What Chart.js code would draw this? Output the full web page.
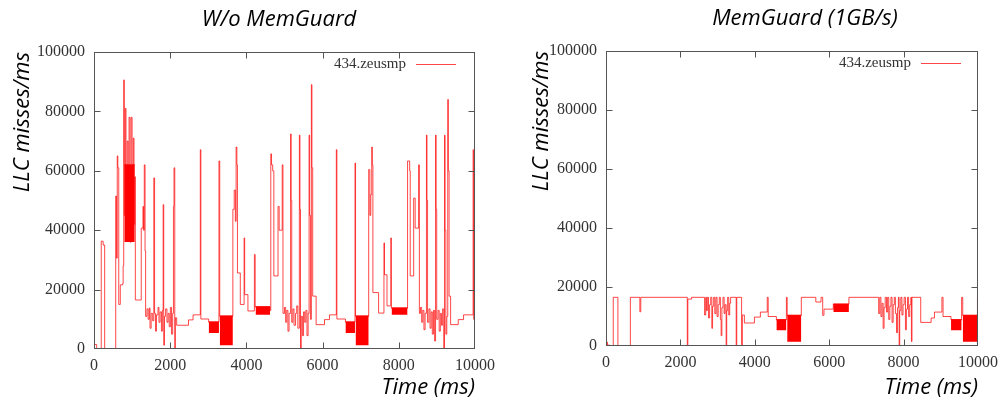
<!DOCTYPE html>
<html lang="en">
<head>
<meta charset="UTF-8">
<title>LLC misses/ms - 434.zeusmp</title>
<script src="https://cdn.jsdelivr.net/npm/chart.js"></script>
<style>
  body { margin: 0; background: #fff; width: 1005px; height: 402px; overflow: hidden; position: relative; }
  .panel { position: absolute; top: 0; }
  #left { left: 0; }
  #right { left: 502px; }
</style>
</head>
<body>
<div class="panel" id="left"><canvas id="noGuard" width="502" height="402"></canvas></div>
<div class="panel" id="right"><canvas id="guard" width="503" height="402"></canvas></div>

<script>
const seriesName = '434.zeusmp';
const xTicks = [0, 2000, 4000, 6000, 8000, 10000];
const yTicks = [0, 20000, 40000, 60000, 80000, 100000];

// [time ms, LLC misses/ms] - each value holds until the next point
const noGuardSteps = [
  [0, 1500], [70, 0], [190, 36300], [240, 35000], [280, 0],
  [570, 51500], [590, 30600], [610, 65000], [625, 61000], [650, 15000], [690, 21600], [750, 22000], [765, 28000], [780, 90600], [795, 45000],
  [820, 81000], [840, 40000], [870, 70000], [895, 38000], [920, 78000], [945, 36000], [975, 78000], [1000, 48000], [1030, 71000], [1050, 42000], [1070, 58000],
  [1085, 16500], [1240, 40700], [1285, 48000], [1300, 40000], [1320, 62000], [1340, 33000],
  [1355, 11000], [1390, 13500], [1420, 10000], [1450, 13800], [1470, 7000], [1500, 12000], [1540, 9500], [1570, 57600], [1590, 12000],
  [1615, 6000], [1640, 11500], [1680, 14000], [1705, 9000], [1735, 12500], [1770, 6000], [1795, 13000], [1815, 48600], [1830, 1300],
  [1850, 11000], [1880, 13500], [1915, 9000], [1945, 12000], [1975, 7500], [2005, 14000], [2035, 5000], [2065, 12000], [2085, 48000],
  [2100, 61000], [2120, 0], [2135, 10500],
  [2170, 8000], [2480, 9800], [2600, 11500], [2790, 67100], [2805, 10100], [3010, 9100], [3280, 63300], [3300, 11100],
  [3645, 47000], [3680, 53500], [3710, 43000], [3730, 68000], [3750, 62000], [3765, 25600], [3840, 15000], [3940, 37400], [3955, 18300],
  [4040, 12800], [4210, 31800], [4230, 14200], [4620, 13000], [4640, 65700], [4660, 62000], [4690, 60000], [4720, 24600], [4830, 48000],
  [4860, 40000], [4940, 62000], [4960, 12000],
  [5000, 14000], [5030, 9000], [5060, 13000], [5090, 6000], [5120, 12000], [5160, 72400], [5175, 50000], [5190, 9000], [5220, 13500],
  [5250, 8000], [5290, 12000], [5320, 14500], [5350, 7000], [5390, 72000], [5405, 47000], [5420, 0], [5440, 11000], [5470, 4500],
  [5500, 12500], [5530, 9000], [5560, 13000], [5590, 4500], [5620, 12000], [5645, 72000], [5660, 45000], [5680, 10000], [5705, 89000],
  [5720, 61000], [5740, 17800],
  [5830, 8200], [6050, 9900], [6180, 11500], [6360, 67100], [6375, 10100], [6600, 9100], [6850, 62600], [6865, 11100],
  [7210, 60400], [7240, 45000], [7265, 52000], [7290, 68000], [7305, 62000], [7320, 19000], [7470, 12100], [7610, 35700], [7625, 25000],
  [7690, 14500], [7790, 37400], [7805, 13800], [8230, 63300], [8285, 60000], [8300, 24600], [8390, 50800], [8430, 40700], [8520, 62000],
  [8540, 12000],
  [8570, 14000], [8600, 9000], [8630, 13000], [8660, 6500], [8690, 12000], [8725, 72000], [8740, 50000], [8755, 9000], [8790, 13500],
  [8820, 7000], [8850, 12500], [8880, 5000], [8910, 13000], [8940, 2700], [8965, 72000], [8980, 47000], [8995, 10000], [9030, 13000],
  [9060, 6000], [9090, 12000], [9120, 8000], [9150, 13500], [9180, 0], [9200, 72000], [9215, 40000], [9235, 5000], [9260, 11000],
  [9285, 84000], [9300, 60000], [9320, 17800],
  [9360, 8200], [9560, 9900], [9700, 11500], [9950, 67100], [9965, 10000], [10000, 10000]
];
// [from ms, to ms, low, high] - sections where the trace toggles too fast to separate
const noGuardBands = [
  [795, 1070, 36000, 62000],
  [3010, 3280, 5400, 9100],
  [3300, 3645, 1300, 11100],
  [4240, 4620, 11500, 14200],
  [6600, 6850, 5400, 9100],
  [6865, 7210, 1300, 11100],
  [7810, 8230, 11500, 13800]
];

const guardSteps = [
  [0, 1300], [40, 300], [100, 0], [195, 16500], [320, 0], [655, 16500], [910, 11600], [935, 16500], [2185, 0], [2200, 15900], [2300, 16500],
  [2650, 10500], [2680, 16500], [2700, 12000], [2725, 16500], [2755, 9500], [2785, 14000], [2815, 16500], [2845, 6000], [2865, 13500],
  [2895, 16500], [2925, 11000], [2955, 16500], [2985, 10000], [3015, 14000], [3045, 16500], [3075, 9000], [3095, 3500], [3115, 13000],
  [3145, 16500], [3175, 11000], [3200, 14000], [3230, 0], [3245, 12000], [3270, 16500], [3300, 10500], [3325, 14500], [3350, 16500],
  [3500, 0], [3515, 16500], [3645, 0], [3665, 10500],
  [3720, 7800], [3990, 9800], [4150, 11500], [4335, 16500], [4360, 10000], [4580, 8900], [4850, 16500], [4870, 10400], [5250, 16500],
  [5640, 14900], [5780, 16500], [5825, 10400], [5860, 12500], [6110, 14200], [6530, 16500],
  [7330, 11000], [7360, 16500], [7390, 10000], [7420, 14500], [7450, 6000], [7475, 13000], [7505, 16500], [7540, 11500], [7570, 16500],
  [7600, 9000], [7630, 13500], [7660, 16500], [7690, 8000], [7720, 14000], [7750, 16500], [7780, 11000], [7810, 4500], [7835, 13000],
  [7860, 16500], [7880, 0], [7895, 12000], [7925, 16500], [7955, 10500], [7985, 14000], [8015, 16500], [8050, 5500], [8075, 12500],
  [8105, 16500], [8135, 10000], [8165, 14000], [8195, 16500], [8210, 1500], [8225, 16500],
  [8460, 8000], [8740, 9500], [8830, 11500], [9030, 16500], [9060, 10000], [9275, 8900], [9560, 16500], [9590, 10400], [9985, 16500],
  [10000, 16500]
];
const guardBands = [
  [4580, 4850, 5300, 8900],
  [4870, 5250, 1400, 10400],
  [6110, 6530, 11500, 14200],
  [9275, 9560, 5300, 8900],
  [9590, 9985, 1400, 10400]
];

const traceRed = 'rgba(255, 0, 0, 0.72)';
const solidRed = 'rgb(255, 0, 0)';
const tickFont = { family: '"Liberation Serif", "DejaVu Serif", serif', size: 16 };
const labelFont = { family: '"Open Sans", sans-serif', size: 22, style: 'italic' };

// gnuplot-like frame: border, inward ticks on all four sides, legend and panel title
const framePlugin = {
  id: 'frame',
  afterDraw(chart, args, opts) {
    const { ctx, chartArea: a, scales: { x, y } } = chart;
    const L = a.left + 0.5, R = a.right - 0.5, T = a.top + 0.5, B = a.bottom - 0.5;
    ctx.save();
    ctx.strokeStyle = '#555';
    ctx.lineWidth = 1;
    ctx.strokeRect(L, T, R - L, B - T);
    ctx.beginPath();
    xTicks.slice(1, -1).forEach(v => {
      const px = Math.round(x.getPixelForValue(v)) + 0.5;
      ctx.moveTo(px, B); ctx.lineTo(px, B - 6);
      ctx.moveTo(px, T); ctx.lineTo(px, T + 6);
    });
    yTicks.slice(1, -1).forEach(v => {
      const py = Math.round(y.getPixelForValue(v)) + 0.5;
      ctx.moveTo(L, py); ctx.lineTo(L + 6, py);
      ctx.moveTo(R, py); ctx.lineTo(R - 6, py);
    });
    ctx.stroke();

    // legend: name then line sample, top right inside the frame
    const ly = Math.floor(a.top) + 12;
    ctx.font = '15px ' + tickFont.family;
    ctx.fillStyle = '#333';
    ctx.textAlign = 'right';
    ctx.textBaseline = 'middle';
    ctx.fillText(seriesName, a.right - opts.legendGap, ly);
    ctx.beginPath();
    ctx.strokeStyle = 'rgb(255, 70, 70)';
    ctx.lineWidth = 1;
    ctx.moveTo(Math.round(a.right - opts.legendGap + 10), ly + 0.5);
    ctx.lineTo(Math.round(a.right - opts.legendGap + 50), ly + 0.5);
    ctx.stroke();

    ctx.font = 'italic 22px "Open Sans", sans-serif';
    ctx.fillStyle = '#000';
    ctx.textAlign = 'center';
    ctx.fillText(opts.title, opts.titleX, opts.titleY);
    ctx.restore();
  }
};

function makeChart(id, steps, bands, cfg) {
  const datasets = [{
    data: steps.map(([t, v]) => ({ x: t, y: v })),
    borderColor: traceRed,
    borderWidth: 1,
    stepped: true,
    pointRadius: 0,
    fill: false
  }];
  bands.forEach(([t0, t1, lo, hi]) => datasets.push({
    data: [{ x: t0, y: hi }, { x: t1, y: hi }],
    borderColor: solidRed,
    borderWidth: 1,
    backgroundColor: solidRed,
    pointRadius: 0,
    fill: { value: lo }
  }));

  return new Chart(document.getElementById(id), {
    type: 'line',
    data: { datasets },
    options: {
      responsive: false,
      animation: false,
      layout: { padding: { top: cfg.padTop, right: cfg.padRight, left: 0, bottom: 0 } },
      plugins: {
        legend: { display: false },
        tooltip: { enabled: false },
        frame: { title: cfg.title, titleX: cfg.titleX, titleY: cfg.titleY, legendGap: cfg.legendGap }
      },
      scales: {
        x: {
          type: 'linear',
          min: xTicks[0],
          max: xTicks[xTicks.length - 1],
          grid: { display: false, drawTicks: false },
          border: { display: false },
          ticks: { font: tickFont, color: '#333', padding: 7, maxRotation: 0, autoSkip: false, callback: v => String(v) },
          afterBuildTicks: s => { s.ticks = xTicks.map(value => ({ value })); },
          afterFit: s => { s.height = cfg.xHeight; },
          title: { display: true, text: 'Time (ms)', align: 'end', font: labelFont, color: '#000', padding: { top: 0, bottom: 1 } }
        },
        y: {
          min: yTicks[0],
          max: yTicks[yTicks.length - 1],
          grid: { display: false, drawTicks: false },
          border: { display: false },
          ticks: { font: tickFont, color: '#333', padding: 9, autoSkip: false, callback: v => String(v) },
          afterBuildTicks: s => { s.ticks = yTicks.map(value => ({ value })); },
          afterFit: s => { s.width = cfg.yWidth; },
          title: { display: true, text: 'LLC misses/ms', align: 'end', font: labelFont, color: '#000', padding: { top: cfg.yTitlePad, bottom: 0 } }
        }
      }
    },
    plugins: [framePlugin]
  });
}

makeChart('noGuard', noGuardSteps, noGuardBands, {
  title: 'W/o MemGuard', titleX: 279, titleY: 20,
  padTop: 52, padRight: 25, yWidth: 94, xHeight: 53, yTitlePad: 10, legendGap: 69
});
makeChart('guard', guardSteps, guardBands, {
  title: 'MemGuard (1GB/s)', titleX: 303, titleY: 19,
  padTop: 51, padRight: 23, yWidth: 104, xHeight: 56, yTitlePad: 27, legendGap: 67
});
</script>
</body>
</html>
